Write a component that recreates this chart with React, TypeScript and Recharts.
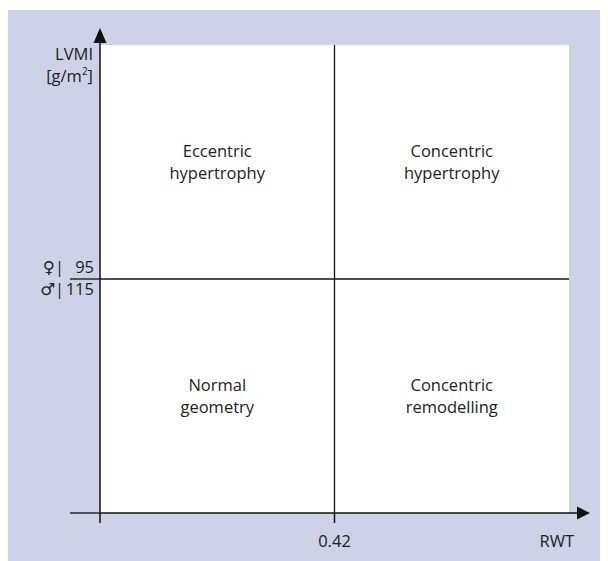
import { ScatterChart, Scatter, XAxis, YAxis, ReferenceArea, ReferenceLine } from 'recharts';

// axis ranges and cut-off values
const rwtDomain = [0.2, 0.64];
const lvmiDomain = [45, 145];
const rwtCut = 0.42;
const lvmiCutFemale = 95;
const lvmiCutMale = 115;

// quadrants: [x1, x2, y1, y2] in data units, with two-line labels
const quadrantX = [[0.2, 0.42], [0.42, 0.64], [0.2, 0.42], [0.42, 0.64]];
const quadrantY = [[95, 145], [95, 145], [45, 95], [45, 95]];
const quadrantLabels = [
  ['Eccentric', 'hypertrophy'],
  ['Concentric', 'hypertrophy'],
  ['Normal', 'geometry'],
  ['Concentric', 'remodelling'],
];

const FONT = '"Open Sans", "DejaVu Sans", sans-serif';
const FS = 16.5;
const TEXT = '#222';
const LINE = '#111';

const QuadLabel = ({ viewBox, lines }: any) => {
  if (!viewBox) return null;
  const cx = viewBox.x + viewBox.width / 2;
  const cy = viewBox.y + viewBox.height / 2;
  return (
    <text x={cx} y={cy - 5} textAnchor="middle" fontSize={FS} fontFamily={FONT} fill={TEXT}>
      <tspan x={cx} dy={0}>{lines[0]}</tspan>
      <tspan x={cx} dy={22}>{lines[1]}</tspan>
    </text>
  );
};

const LvmiTick = ({ x, y, payload }: any) => {
  if (payload.value !== lvmiCutFemale) return null;
  const axisX = x + 30;
  return (
    <g fontSize={FS} fontFamily={FONT} fill={TEXT}>
      <text x={axisX - 36} y={y - 6} textAnchor="end">♀|</text>
      <text x={axisX - 6} y={y - 6} textAnchor="end">{lvmiCutFemale}</text>
      <text x={axisX - 36} y={y + 16} textAnchor="end">♂|</text>
      <text x={axisX - 6} y={y + 16} textAnchor="end">{lvmiCutMale}</text>
    </g>
  );
};

export default function App() {
  return (
    <div style={{ position: 'relative', width: 600, height: 553 }}>
      <div style={{ position: 'absolute', top: 2, left: 0, right: 0, bottom: 0, background: '#cdd2e6' }} />
      <svg width={0} height={0} style={{ position: 'absolute' }}>
        <defs>
          <marker id="arrowX" markerUnits="userSpaceOnUse" orient="auto" refX={0} refY={0}
            markerWidth={30} markerHeight={20} overflow="visible">
            <path d="M0,0 L9,0" stroke={LINE} strokeWidth={1.5} />
            <polygon points="8,-6.5 21,0 8,6.5" fill={LINE} />
          </marker>
          <marker id="arrowY" markerUnits="userSpaceOnUse" orient="auto-start-reverse" refX={0} refY={0}
            markerWidth={30} markerHeight={20} overflow="visible">
            <path d="M0,0 L3,0" stroke={LINE} strokeWidth={1.5} />
            <polygon points="2,-6.5 17,0 2,6.5" fill={LINE} />
          </marker>
        </defs>
      </svg>
      <div style={{ position: 'absolute', top: 0, left: 0 }}>
        <ScatterChart width={600} height={553} margin={{ top: 37, right: 39, bottom: 8, left: 32 }}>
          <XAxis
            type="number"
            dataKey="x"
            domain={rwtDomain}
            allowDataOverflow
            ticks={[rwtDomain[0], rwtCut]}
            tickFormatter={(v: number) => (v === rwtCut ? String(rwtCut) : '')}
            tickSize={10}
            tickMargin={12}
            height={40}
            axisLine={{ stroke: LINE, strokeWidth: 1.5, markerEnd: 'url(#arrowX)' }}
            tickLine={{ stroke: LINE, strokeWidth: 1.5 }}
            tick={{ fill: TEXT, fontSize: FS, fontFamily: FONT }}
          />
          <YAxis
            type="number"
            dataKey="y"
            domain={lvmiDomain}
            allowDataOverflow
            ticks={[lvmiDomain[0], lvmiCutFemale]}
            tickSize={30}
            tickMargin={0}
            width={60}
            axisLine={{ stroke: LINE, strokeWidth: 1.5, markerStart: 'url(#arrowY)' }}
            tickLine={{ stroke: LINE, strokeWidth: 1.3 }}
            tick={<LvmiTick />}
          />
          {quadrantLabels.map((lines, i) => (
            <ReferenceArea
              key={i}
              x1={quadrantX[i][0]}
              x2={quadrantX[i][1]}
              y1={quadrantY[i][0]}
              y2={quadrantY[i][1]}
              fill="#ffffff"
              fillOpacity={1}
              stroke="none"
              label={{ content: (p: any) => <QuadLabel viewBox={p.viewBox} lines={lines} /> }}
            />
          ))}
          <ReferenceLine x={rwtCut} stroke={LINE} strokeWidth={1.3} />
          <ReferenceLine y={lvmiCutFemale} stroke={LINE} strokeWidth={1.3} />
          <Scatter data={[]} isAnimationActive={false} />
          <g fontSize={FS} fontFamily={FONT} fill={TEXT}>
            <text x={85} y={52} textAnchor="end">LVMI</text>
            <text x={85} y={74} textAnchor="end">
              [g/m<tspan fontSize={10} dy={-7}>2</tspan><tspan dy={7}>]</tspan>
            </text>
            <text x={566} y={539} textAnchor="end">RWT</text>
          </g>
        </ScatterChart>
      </div>
    </div>
  );
}
